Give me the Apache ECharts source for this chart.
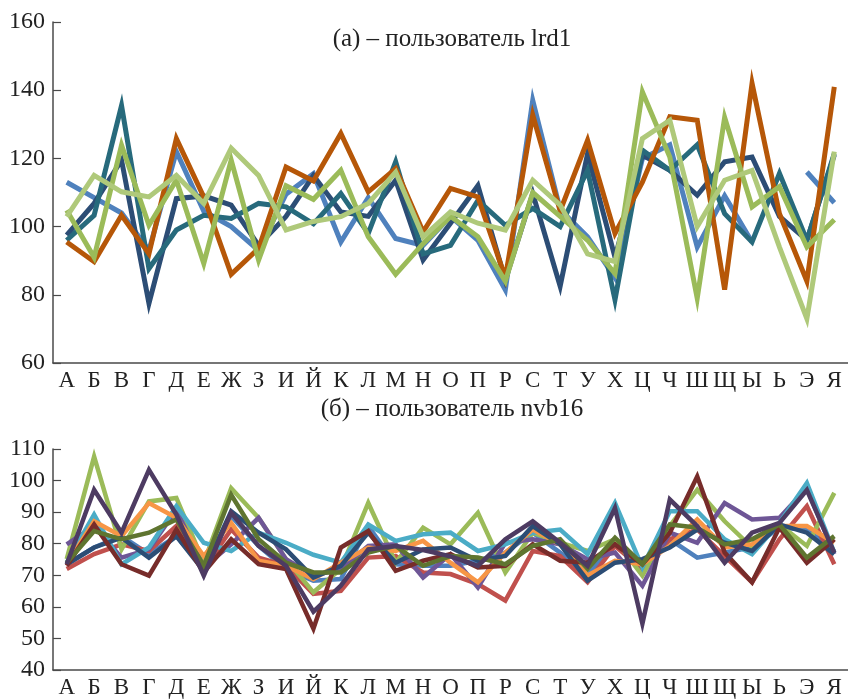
<!DOCTYPE html>
<html><head><meta charset="utf-8">
<script src="https://cdn.jsdelivr.net/npm/echarts@6/dist/echarts.min.js"></script>
<style>html,body{margin:0;padding:0;background:#fff}#c{width:848px;height:699px}</style>
</head><body><div id="c"></div>
<script>
const categories = ['А','Б','В','Г','Д','Е','Ж','З','И','Й','К','Л','М','Н','О','П','Р','С','Т','У','Х','Ц','Ч','Ш','Щ','Ы','Ь','Э','Я'];
const titleA = '(а) – пользователь lrd1';
const titleB = '(б) – пользователь nvb16';

// panel (a)
const blueA   = [113,108.5,104,93,122,104.5,100,93,109.5,115.5,95.5,108.5,96.5,94.5,103,96,81.5,137,105,97,85,120,124,94,109,95.5,null,116,107];
const navyA   = [97.5,106.8,119.5,77.5,108.2,109,106.3,94.5,103,115,104.3,103,113.6,90.2,101,112,84.3,109.7,82.5,121.4,91,121,116.5,109.2,119,120.4,103,96,121];
const tealA   = [96,103.3,135.5,87.7,99,103.3,102.4,106.8,105.8,100.8,109.7,98,119,92,94.5,107.7,100.4,105.3,100,116.5,78.5,122.4,116.5,124,103.8,95.5,115.6,96,121.4];
const orangeA = [95.5,89.7,103.3,92,125.8,108.7,86,93.6,117.5,113.4,127.3,110.2,117,98.5,111.2,108.7,85,132.7,104.6,125.3,98,113,132.2,131.2,81.5,142,103.8,84,141];
const greenA  = [104.8,91,123.9,100.4,113.6,89.2,119.5,90.2,112,108,116.5,97,86,95,103,97,84,110,103,96,86.2,139.5,120.4,79,132,105.8,111.7,94,102];
const lgreenA = [102.9,115,110.2,108.7,115,106.8,123,115,99,101.5,102.9,106.8,116,97,104.3,101,99,113.6,106.3,92,89.7,125.8,131.2,100,113.6,116.5,94,73,122];

// panel (б)
const blueB   = [73.5,78.8,82.4,76.7,82.4,72,88.7,79.3,72,68.3,68.8,85.6,73.5,73,73,74.6,77.2,83.5,77.2,69.9,80.9,70.9,81.4,75.6,77.2,78.8,85.1,84.5,77.7];
const redB    = [72,76.7,79.8,77.7,85.6,72,84.5,75.6,73,64.1,65.1,75.6,76.1,70.9,70.4,67.2,62,77.7,76.1,67.8,79.3,72,81.4,84.5,76.1,67.8,81.4,91.9,73.5];
const greenB  = [75.1,107.6,78.2,93.4,94.5,74,97.6,88.2,75.1,64.6,72,92.9,74,85.1,79.8,89.8,70.9,83.5,80.3,77.7,81.4,69.9,85.6,97.1,87.1,78.8,86.1,79.3,96.1];
const purpleB = [79.8,85.6,75.6,78.2,90.8,72.5,79.8,88.2,75.1,69.9,72,79.3,79.8,69.3,76.7,66.2,80.3,81.4,79.8,75.1,77.2,66.7,83.5,80.3,92.9,87.7,88.2,97.6,76.7];
const aquaB   = [74,89.2,73.5,78.8,91.9,80.3,77.7,83.5,80.3,76.5,74,86.1,80.9,83,83.5,77.7,79.8,83.5,84.5,76.7,92.9,72.5,90.3,90.3,81.4,76.7,86.6,99.2,77.2];
const orangeB = [73.5,87.1,82.4,92.9,88.2,76.1,86.6,74.6,73,68.8,74,78.8,77.7,80.9,74,67.8,77.2,84.5,79.8,69.9,74.6,73.5,79.3,87.7,78.8,79.8,85.6,85.6,80.3];
const dblueB  = [73.5,78.8,81.9,75.6,82.4,71.4,90.3,83.5,78.2,69.3,73,83.5,74,78.2,78.8,74.6,76.1,85.6,79.8,68.3,74,75.1,78.8,84.5,80.3,77.7,86.1,83.5,76.7];
const dredB   = [73,86.1,73.5,69.9,84.5,70.9,81.4,73.5,72,53.1,78.8,84,71.4,74.6,76.7,72.5,73,79.8,74.6,74,79.8,73.5,83.5,101.3,77.2,67.8,85.1,74,81.4];
const dgreenB = [74,84,81.4,83.5,87.7,73,95.5,81.4,74,70.9,70.9,77.2,79.3,73,76.1,75.6,73.5,79.3,81.4,72,81.9,73.5,86.1,85.1,79.8,81.4,86.1,75.6,82.4];
const dpurpB  = [73.5,97.1,83.5,103.4,89.2,69.9,89.8,79.3,73,58.5,66.7,78.2,79.3,78,76,73,81.4,87.1,80.3,73,91.3,54.7,94,85.6,74,83.5,86.6,97,77.2];

const FONT = 'Liberation Serif';
const axisCol = '#4a4a4a';
function xAx(gi){
  return {type:'category', gridIndex:gi, data:categories, boundaryGap:true,
    axisLine:{lineStyle:{color:axisCol,width:1.5}},
    axisTick:{inside:true,length:7,alignWithLabel:false,lineStyle:{color:axisCol,width:1.2}},
    axisLabel:{interval:0,color:'#222',fontFamily:FONT,fontSize:23,margin:6},
    splitLine:{show:false}};
}
function yAx(gi,min,max,step){
  return {type:'value', gridIndex:gi, min:min, max:max, interval:step,
    axisLine:{show:true,lineStyle:{color:axisCol,width:1.5}},
    axisTick:{show:true,inside:true,length:8,lineStyle:{color:axisCol,width:1.2}},
    axisLabel:{color:'#222',fontFamily:FONT,fontSize:24,margin:8},
    splitLine:{show:false}};
}
function ser(gi,data,color,w){
  return {type:'line', xAxisIndex:gi, yAxisIndex:gi, data:data, symbol:'none', connectNulls:false,
    lineStyle:{color:color,width:w,join:'miter',miterLimit:6}, itemStyle:{color:color}, animation:false};
}
const option = {
  animation:false,
  grid:[{left:53,top:22,width:799.5,height:341},{left:53,top:449,width:799.5,height:222.7}],
  xAxis:[xAx(0),xAx(1)],
  yAxis:[yAx(0,60,160,20),yAx(1,40,110,10)],
  graphic:[
    {type:'text',style:{text:titleA,x:452,y:39,textAlign:'center',textVerticalAlign:'middle',font:'25px "Liberation Serif"',fill:'#222'}},
    {type:'text',style:{text:titleB,x:452,y:409,textAlign:'center',textVerticalAlign:'middle',font:'25px "Liberation Serif"',fill:'#222'}}
  ],
  series:[
    ser(0,blueA,'#4F81BD',5), ser(0,navyA,'#2C4D75',5), ser(0,tealA,'#276A7C',5),
    ser(0,orangeA,'#B65708',5), ser(0,greenA,'#9BBB59',5), ser(0,lgreenA,'#AFC97A',5),
    ser(1,blueB,'#4F81BD',4.5), ser(1,redB,'#C0504D',4.5), ser(1,greenB,'#9BBB59',4.5),
    ser(1,purpleB,'#6E5696',4.5), ser(1,aquaB,'#4BACC6',4.5), ser(1,orangeB,'#F79646',4.5),
    ser(1,dblueB,'#2C4D75',4.5), ser(1,dredB,'#772C2A',4.5), ser(1,dgreenB,'#5F7530',4.5),
    ser(1,dpurpB,'#4D3B62',4.5)
  ]
};
const chart = echarts.init(document.getElementById('c'),null,{renderer:'canvas'});
chart.setOption(option);
</script></body></html>
